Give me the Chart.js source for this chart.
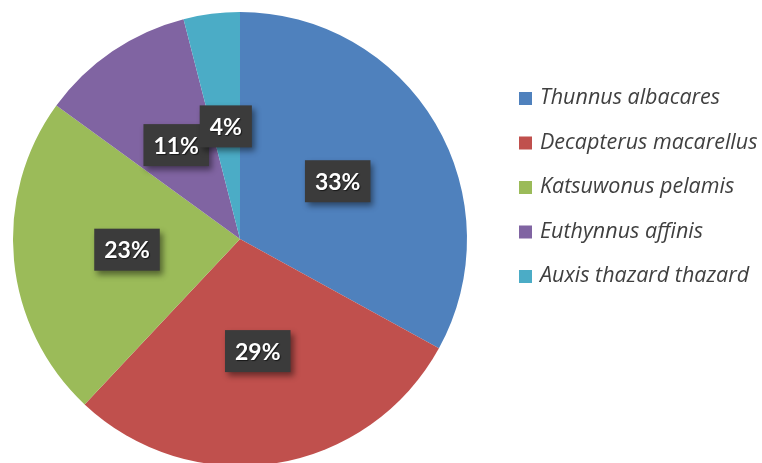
<!DOCTYPE html>
<html>
<head>
<meta charset="utf-8">
<script src="https://cdn.jsdelivr.net/npm/chart.js@4/dist/chart.umd.min.js"></script>
<style>
  html, body { margin: 0; padding: 0; background: #fff; overflow: hidden; }
  #wrap { width: 762px; height: 478px; }
</style>
</head>
<body>
<div id="wrap"><canvas id="myChart"></canvas></div>
<script>
const species = ['Thunnus albacares', 'Decapterus macarellus', 'Katsuwonus pelamis', 'Euthynnus affinis', 'Auxis thazard thazard'];
const shares = [33, 29, 23, 11, 4];
const sliceColors = ['#4F81BD', '#C0504D', '#9BBB59', '#8064A2', '#4BACC6'];

// dark boxes with the percentage, drawn in the middle of each slice
const boxLabels = {
  id: 'boxLabels',
  afterDatasetsDraw(chart) {
    const ctx = chart.ctx;
    const meta = chart.getDatasetMeta(0);
    ctx.save();
    ctx.font = 'bold 23px Lato, "Open Sans", sans-serif';
    ctx.textAlign = 'center';
    ctx.textBaseline = 'middle';
    meta.data.forEach(function (arc, i) {
      const mid = (arc.startAngle + arc.endAngle) / 2;
      const r = arc.outerRadius * 0.5;
      const x = arc.x + Math.cos(mid) * r;
      const y = arc.y + Math.sin(mid) * r;
      const text = shares[i] + '%';
      const w = ctx.measureText(text).width + 20;
      const h = 42;
      ctx.shadowColor = 'rgba(0,0,0,0.45)';
      ctx.shadowBlur = 6;
      ctx.shadowOffsetX = 3;
      ctx.shadowOffsetY = 4;
      ctx.fillStyle = '#3b3b3b';
      ctx.fillRect(x - w / 2, y - h / 2, w, h);
      ctx.shadowColor = 'rgba(0,0,0,0.6)';
      ctx.shadowBlur = 1;
      ctx.shadowOffsetX = 1;
      ctx.shadowOffsetY = 1;
      ctx.fillStyle = '#ffffff';
      ctx.fillText(text, x, y + 1);
    });
    ctx.restore();
  }
};

// legend on the right side
const sideLegend = {
  id: 'sideLegend',
  afterDraw(chart) {
    const ctx = chart.ctx;
    ctx.save();
    ctx.font = 'italic 21.5px "Open Sans", sans-serif';
    ctx.textBaseline = 'middle';
    chart.data.labels.forEach(function (label, i) {
      const y = 98 + i * 44.5;
      ctx.fillStyle = sliceColors[i];
      ctx.fillRect(519, y - 6, 13, 13);
      ctx.fillStyle = '#404040';
      ctx.fillText(label, 540, y);
    });
    ctx.restore();
  }
};

const ctx = document.getElementById('myChart');
new Chart(ctx, {
  type: 'pie',
  data: {
    labels: species,
    datasets: [{
      data: shares,
      backgroundColor: sliceColors,
      borderWidth: 0
    }]
  },
  options: {
    responsive: true,
    maintainAspectRatio: false,
    animation: false,
    layout: { padding: { left: 13, top: 12, bottom: 12, right: 295 } },
    plugins: {
      legend: { display: false },
      tooltip: { enabled: false }
    }
  },
  plugins: [boxLabels, sideLegend]
});
</script>
</body>
</html>
